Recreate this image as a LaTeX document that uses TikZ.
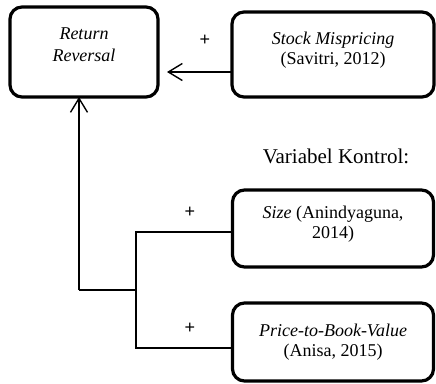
\documentclass[tikz,border=0pt]{standalone}
\usepackage{fontspec}
\setmainfont{Liberation Serif}
\newfontfamily\plusfont{Liberation Sans}
\usetikzlibrary{arrows.meta}
\begin{document}
\begin{tikzpicture}[x=1pt,y=-1pt,
  box/.style={draw, line width=3.2pt, rounded corners=12pt, inner sep=0pt, outer sep=0pt,
    align=center, font=\fontsize{18}{20.5}\selectfont},
  conn/.style={draw, line width=1.4pt},
  arr/.style={conn, -{Straight Barb[length=14pt,width=17pt,line width=1.4pt]}},
  plus/.style={font=\plusfont\fontsize{18}{18}\selectfont, inner sep=0pt},
  ]
\useasboundingbox (0,0) rectangle (436,383);
\node[box, minimum width=148pt, minimum height=90pt, text depth=14pt,
  font=\fontsize{18}{22}\selectfont] (rr) at (84,52) {\textit{Return}\\\textit{Reversal}};
\node[box, minimum width=202pt, minimum height=85pt, text depth=12pt] (sm) at (333,54.5) {\textit{Stock Mispricing}\\(Savitri, 2012)};
\node[box, minimum width=201pt, minimum height=77pt, text depth=12pt] (sz) at (333,228.5) {\textit{Size} (Anindyaguna,\\2014)};
\node[box, minimum width=201pt, minimum height=78pt, text depth=4pt] (pbv) at (333,342) {\textit{Price-to-Book-Value}\\(Anisa, 2015)};
\node[font=\fontsize{21}{24}\selectfont, inner sep=0pt] (vk) at (336,156) {Variabel Kontrol:};
\node[plus] (p1) at (205,40) {+};
\node[plus] (p2) at (190,212) {+};
\node[plus] (p3) at (190,328) {+};
\coordinate (a1) at (167,72);
\coordinate (j) at (79,290);
\coordinate (b) at (136,290);
\coordinate (s1) at (136,232);
\coordinate (q1) at (136,348);
\draw[arr] (sm.west |- a1) -- (a1);
\draw[arr] (j) -- (rr.south -| j);
\draw[conn] (j) -- (b);
\draw[conn] (sz.west |- s1) -- (s1) -- (q1) -- (pbv.west |- q1);
\end{tikzpicture}
\end{document}
